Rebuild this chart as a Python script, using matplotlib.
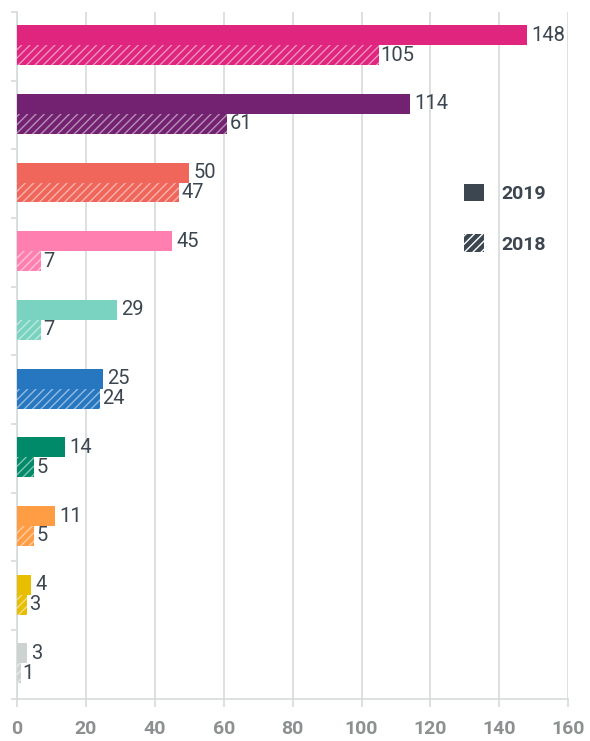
import numpy as np
import matplotlib.pyplot as plt
from matplotlib.patches import Patch

plt.rcParams['font.family'] = ['Roboto', 'DejaVu Sans']
plt.rcParams['hatch.linewidth'] = 1.0

# Datos
v2019 = [148, 114, 50, 45, 29, 25, 14, 11, 4, 3]
v2018 = [105, 61, 47, 7, 7, 24, 5, 5, 3, 1]
colores = ['#E0257F', '#722270', '#F0665A', '#FF80B0', '#7AD3C0',
           '#2777C0', '#008A6A', '#FF9D45', '#E8BE00', '#CDD3D0']
xticks = [0, 20, 40, 60, 80, 100, 120, 140, 160]

txt = '#3C4650'
gris = '#D5DADA'

fig = plt.figure(figsize=(5.9, 7.41), dpi=100)
ax = fig.add_axes([0.029, 0.057, 0.934, 0.927])

n = len(v2019)
y = np.arange(n)
h = 0.29
off = 0.16  # centro del par, un poco arriba del centro de la categoria

for i in range(n):
    ax.barh(y[i] - off, v2019[i], height=h, color=colores[i], linewidth=0, zorder=3)
    ax.barh(y[i] - off + h, v2018[i], height=h, color=colores[i],
            edgecolor=(1, 1, 1, 0.5), hatch='////', linewidth=0, zorder=3)
    ax.text(v2019[i] + 1.2, y[i] - off, str(v2019[i]), va='center', ha='left',
            fontsize=14.5, color=txt, zorder=4)
    ax.text(v2018[i] + 0.6, y[i] - off + h, str(v2018[i]), va='center', ha='left',
            fontsize=14.5, color=txt, zorder=4)

ax.set_xlim(0, 160)
ax.set_ylim(n - 0.5, -0.5)
ax.set_xticks(xticks)
ax.set_xticklabels([str(t) for t in xticks], fontsize=14, color='#8C9090', fontweight='bold')
ax.set_yticks(np.arange(n + 1) - 0.5)
ax.set_yticklabels([])
ax.tick_params(axis='y', length=4, color=gris, width=1.2)
ax.tick_params(axis='x', length=6, color=gris, width=1.2, pad=9)
ax.grid(axis='x', color=gris, linewidth=1.2, zorder=0)
for s in ['top', 'right']:
    ax.spines[s].set_visible(False)
for s in ['left', 'bottom']:
    ax.spines[s].set_color(gris)
    ax.spines[s].set_linewidth(1.2)

handles = [Patch(facecolor=txt, linewidth=0, label='2019'),
           Patch(facecolor=txt, edgecolor='white', hatch='////', linewidth=0, label='2018')]
leg = ax.legend(handles=handles, loc='upper left', bbox_to_anchor=(0.78, 0.775),
                frameon=False, handlelength=1.0, handleheight=1.0, handletextpad=0.9,
                labelspacing=1.6, prop={'size': 14, 'weight': 'bold'})
for t in leg.get_texts():
    t.set_color(txt)

plt.savefig('out.png', dpi=100)
